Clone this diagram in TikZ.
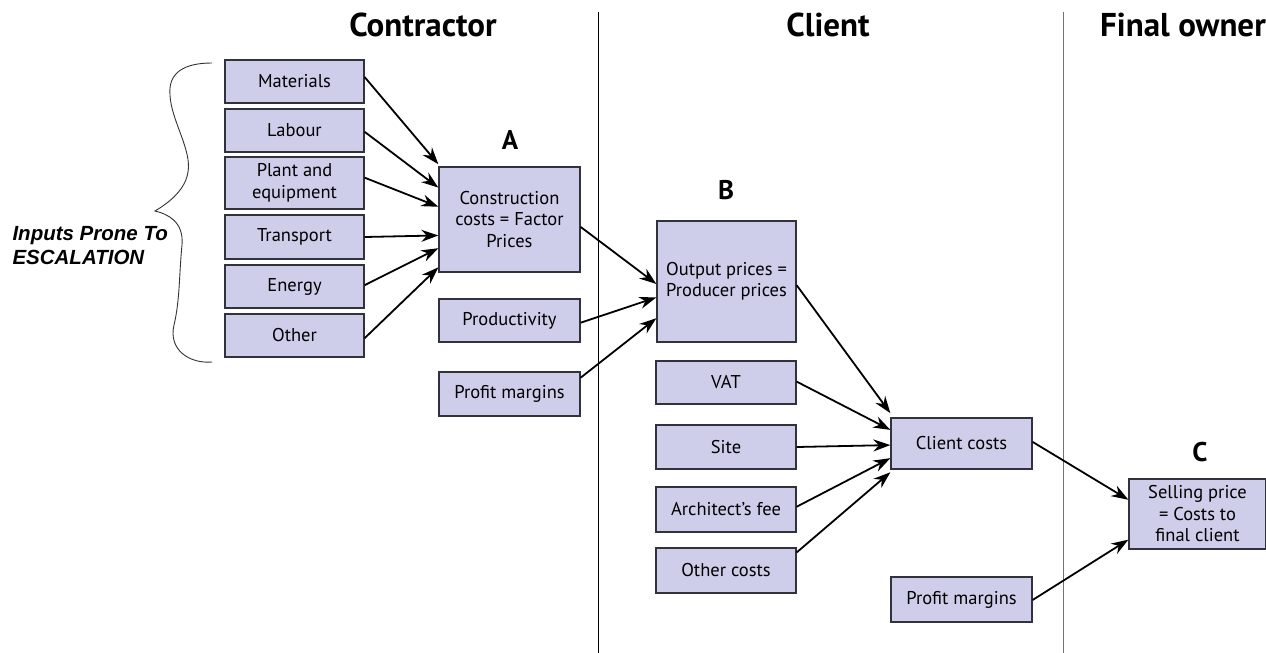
\documentclass[tikz,border=0pt]{standalone}
\usepackage{fontspec}
\setmainfont{PT Sans}
\newfontfamily\labelfont{Liberation Sans}
\usetikzlibrary{arrows.meta,calc}
\definecolor{boxfill}{RGB}{206,206,234}
\definecolor{boxline}{RGB}{50,50,60}
\tikzset{
  costbox/.style={draw=boxline, line width=1.3pt, fill=boxfill, inner sep=0pt,
    font=\fontsize{18.5}{21.5}\selectfont, align=center},
  flow/.style={draw=black, line width=1.8pt, -{Stealth[length=17pt,width=12pt]}},
  heading/.style={font=\fontsize{33}{36}\selectfont\bfseries},
  stagelabel/.style={font=\fontsize{27}{30}\selectfont\bfseries},
  divider/.style={line width=1pt}
}
\newcommand{\boxat}[6]{% name, x1, y1, x2, y2, text
  \node[costbox, minimum width=#4-#2, minimum height=#5-#3] (#1) at ({(#2+#4)/2},{(#3+#5)/2}) {#6};}
\begin{document}
\begin{tikzpicture}[x=1pt,y=-1pt]
\useasboundingbox (0,0) rectangle (1266,653);
\fill[white] (0,0) rectangle (1266,653);

% column dividers
\draw[divider, black] (598,12) -- (598,653);
\draw[divider, black!55] (1063,12) -- (1063,653);

% column headings
\node[heading] (hcon) at (423,25) {Contractor};
\node[heading] (hcli) at (828,25) {Client};
\node[heading] (hown) at (1183,25) {Final owner};

% input boxes
\boxat{mat}{225}{60}{364}{103}{Materials}
\boxat{lab}{225}{109}{364}{152}{Labour}
\boxat{pla}{225}{157}{364}{209}{Plant and\\equipment}
\boxat{tra}{225}{215}{364}{259}{Transport}
\boxat{ene}{225}{265}{364}{308}{Energy}
\boxat{oth}{225}{314}{364}{357}{Other}

% brace and its label
\draw[line width=0.9pt, black!80] (212,63)
  .. controls (185,63) and (168,72) .. (170,95)
  .. controls (171,120) and (192,150) .. (188,172)
  .. controls (185,192) and (165,205) .. (155,211)
  .. controls (168,214) and (184,222) .. (182,245)
  .. controls (179,275) and (180,300) .. (174,325)
  .. controls (168,350) and (190,364) .. (212,362);
\node[font=\labelfont\fontsize{20.5}{24}\selectfont\bfseries\itshape, align=left, anchor=west]
  (esc) at (9,246) {Inputs Prone To\\ESCALATION};

% stage A
\boxat{A}{439}{167}{580}{272}{Construction\\costs = Factor\\Prices}
\node[stagelabel] (la) at (510,140) {A};
\boxat{prod}{439}{299}{580}{342}{Productivity}
\boxat{pm1}{439}{372}{580}{416}{Profit margins}

% stage B
\boxat{B}{657}{221}{796}{342}{Output prices =\\Producer prices}
\node[stagelabel] (lb) at (726,190) {B};
\boxat{vat}{656}{361}{796}{404}{VAT}
\boxat{site}{656}{425}{796}{469}{Site}
\boxat{arch}{656}{487}{796}{532}{Architect's fee}
\boxat{oc}{656}{548}{796}{593}{Other costs}

% client costs and final owner
\boxat{cc}{891}{418}{1032}{469}{Client costs}
\boxat{pm2}{891}{577}{1032}{622}{Profit margins}
\boxat{C}{1129}{479}{1266}{549}{Selling price\\= Costs to\\final client}
\node[stagelabel] (lc) at (1200,452) {C};

% inputs into construction costs
\draw[flow] ($(mat.north east)!0.40!(mat.south east)$) -- ($(A.north west)!-0.02!(A.south west)$);
\draw[flow] ($(lab.north east)!0.53!(lab.south east)$) -- ($(A.north west)!0.20!(A.south west)$);
\draw[flow] ($(pla.north east)!0.40!(pla.south east)$) -- ($(A.north west)!0.38!(A.south west)$);
\draw[flow] (tra.east) -- ($(A.north west)!0.65!(A.south west)$);
\draw[flow] ($(ene.north east)!0.47!(ene.south east)$) -- ($(A.north west)!0.77!(A.south west)$);
\draw[flow] ($(oth.north east)!0.56!(oth.south east)$) -- ($(A.north west)!0.95!(A.south west)$);

% into output prices
\draw[flow] ($(A.north east)!0.57!(A.south east)$) -- ($(B.north west)!0.52!(B.south west)$);
\draw[flow] ($(prod.north east)!0.55!(prod.south east)$) -- ($(B.north west)!0.63!(B.south west)$);
\draw[flow] ($(pm1.north east)!0.14!(pm1.south east)$) -- ($(B.north west)!0.80!(B.south west)$);

% into client costs
\draw[flow] ($(B.north east)!0.53!(B.south east)$) -- ($(cc.north west)!-0.08!(cc.south west)$);
\draw[flow] ($(vat.north east)!0.48!(vat.south east)$) -- ($(cc.north west)!0.24!(cc.south west)$);
\draw[flow] (site.east) -- ($(cc.north west)!0.53!(cc.south west)$);
\draw[flow] ($(arch.north east)!0.44!(arch.south east)$) -- ($(cc.north west)!0.78!(cc.south west)$);
\draw[flow] ($(oc.north east)!0.11!(oc.south east)$) -- ($(cc.north west)!1.05!(cc.south west)$);

% into selling price
\draw[flow] ($(cc.north east)!0.47!(cc.south east)$) -- ($(C.north west)!0.30!(C.south west)$);
\draw[flow] ($(pm2.north east)!0.51!(pm2.south east)$) -- ($(C.north west)!0.86!(C.south west)$);
\end{tikzpicture}
\end{document}
